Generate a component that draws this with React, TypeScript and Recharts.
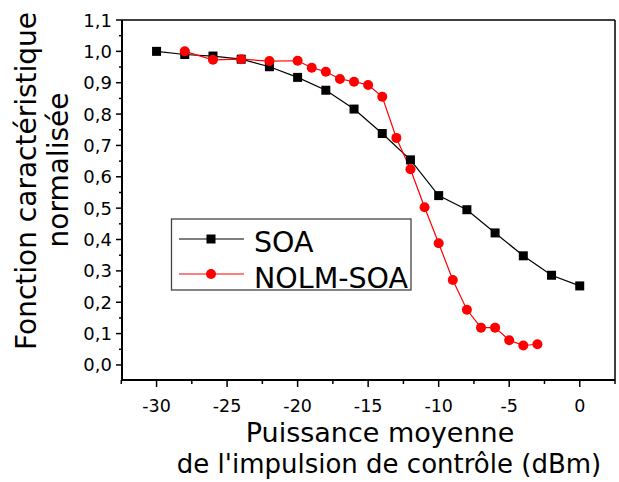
import { LineChart, Line, XAxis, YAxis, ReferenceLine } from "recharts";

const SOA_X = [-30, -28, -26, -24, -22, -20, -18, -16, -14, -12, -10, -8, -6, -4, -2, 0];
const SOA_Y = [1.0, 0.99, 0.985, 0.975, 0.951, 0.917, 0.876, 0.816, 0.738, 0.654, 0.54, 0.495, 0.421, 0.348, 0.286, 0.252];

const NOLM_X = [-28, -26, -24, -22, -20, -19, -18, -17, -16, -15, -14, -13, -12, -11, -10, -9, -8, -7, -6, -5, -4, -3];
const NOLM_Y = [1.0, 0.973, 0.975, 0.969, 0.97, 0.948, 0.935, 0.912, 0.903, 0.893, 0.855, 0.724, 0.624, 0.503, 0.388, 0.271, 0.176, 0.119, 0.119, 0.079, 0.062, 0.066];

const X_TICKS = [-32.5, -30, -27.5, -25, -22.5, -20, -17.5, -15, -12.5, -10, -7.5, -5, -2.5, 0, 2.5];
const Y_TICKS = [0, 0.05, 0.1, 0.15, 0.2, 0.25, 0.3, 0.35, 0.4, 0.45, 0.5, 0.55, 0.6, 0.65, 0.7, 0.75, 0.8, 0.85, 0.9, 0.95, 1.0, 1.05, 1.1];

const soaData = SOA_X.map((x, i) => ({ x, y: SOA_Y[i] }));
const nolmData = NOLM_X.map((x, i) => ({ x, y: NOLM_Y[i] }));

const FONT = "'DejaVu Sans', sans-serif";

const XTick = ({ x, y, payload }: any) => {
  const v = payload.value;
  const major = Math.abs(v % 5) < 1e-6;
  return (
    <g>
      <line x1={x} x2={x} y1={y} y2={y + (major ? 7 : 4)} stroke="#000" strokeWidth={1.5} />
      {major && (
        <text x={x} y={y + 32} textAnchor="middle" fontSize={17.5} fill="#000" fontFamily={FONT}>
          {v}
        </text>
      )}
    </g>
  );
};

const YTick = ({ x, y, payload }: any) => {
  const v = payload.value;
  const major = Math.abs(v * 10 - Math.round(v * 10)) < 1e-6;
  return (
    <g>
      <line x1={x - (major ? 6 : 3)} x2={x} y1={y} y2={y} stroke="#000" strokeWidth={1.5} />
      {major && (
        <text x={x - 10} y={y + 6.5} textAnchor="end" fontSize={18} fill="#000" fontFamily={FONT}>
          {v.toFixed(1).replace(".", ",")}
        </text>
      )}
    </g>
  );
};

const SquareDot = ({ cx, cy, index }: any) => (
  <rect key={index} x={cx - 4.5} y={cy - 4.5} width={9} height={9} fill="#000" />
);

const App = () => {
  return (
    <div style={{ position: "absolute", left: 0, top: 0, width: 619, height: 482, background: "#fff", fontFamily: FONT }}>
      <LineChart width={619} height={482} margin={{ top: 20, right: 4, bottom: 0, left: 0 }}>
        <XAxis
          dataKey="x"
          type="number"
          domain={[-32.45, 2.5]}
          allowDataOverflow
          ticks={X_TICKS}
          interval={0}
          tick={<XTick />}
          tickLine={false}
          tickSize={0}
          tickMargin={0}
          height={102}
          axisLine={{ stroke: "#000", strokeWidth: 2 }}
        />
        <YAxis
          dataKey="y"
          type="number"
          domain={[-0.048, 1.1]}
          allowDataOverflow
          ticks={Y_TICKS}
          interval={0}
          tick={<YTick />}
          tickLine={false}
          tickSize={0}
          tickMargin={0}
          width={122}
          axisLine={{ stroke: "#000", strokeWidth: 2 }}
        />
        <ReferenceLine y={1.1} stroke="#000" strokeWidth={1.5} />
        <ReferenceLine x={2.5} stroke="#000" strokeWidth={1.5} />
        <Line
          data={soaData}
          dataKey="y"
          name="SOA"
          stroke="#000"
          strokeWidth={1.2}
          dot={SquareDot}
          isAnimationActive={false}
        />
        <Line
          data={nolmData}
          dataKey="y"
          name="NOLM-SOA"
          stroke="#ff0000"
          strokeWidth={1.2}
          dot={{ r: 5, fill: "#ff0000", stroke: "#ff0000", strokeWidth: 0 }}
          isAnimationActive={false}
        />
      </LineChart>
      <svg
        width={619}
        height={482}
        style={{ position: "absolute", left: 0, top: 0, pointerEvents: "none" }}
        fontFamily={FONT}
      >
        <g transform="translate(36,181) rotate(-90)">
          <text textAnchor="middle" fontSize={28} fill="#000">Fonction caractéristique</text>
        </g>
        <g transform="translate(68,170) rotate(-90)">
          <text textAnchor="middle" fontSize={28} fill="#000">normalisée</text>
        </g>
        <text x={380} y={442} textAnchor="middle" fontSize={27} fill="#000">Puissance moyenne</text>
        <text x={389} y={473} textAnchor="middle" fontSize={26} fill="#000">de l'impulsion de contrôle (dBm)</text>

        <rect x={171.5} y={219} width={239.5} height={71} fill="#fff" stroke="#444" strokeWidth={1.3} />
        <line x1={179} x2={244} y1={239} y2={239} stroke="#000" strokeWidth={1.2} />
        <rect x={206.5} y={234.5} width={9} height={9} fill="#000" />
        <text x={254} y={252} fontSize={28.5} fill="#000">SOA</text>
        <line x1={179} x2={244} y1={274} y2={274} stroke="#ff0000" strokeWidth={1.2} />
        <circle cx={211} cy={274} r={5} fill="#ff0000" />
        <text x={254} y={287.5} fontSize={28.5} fill="#000">NOLM-SOA</text>
      </svg>
    </div>
  );
};

export default App;
